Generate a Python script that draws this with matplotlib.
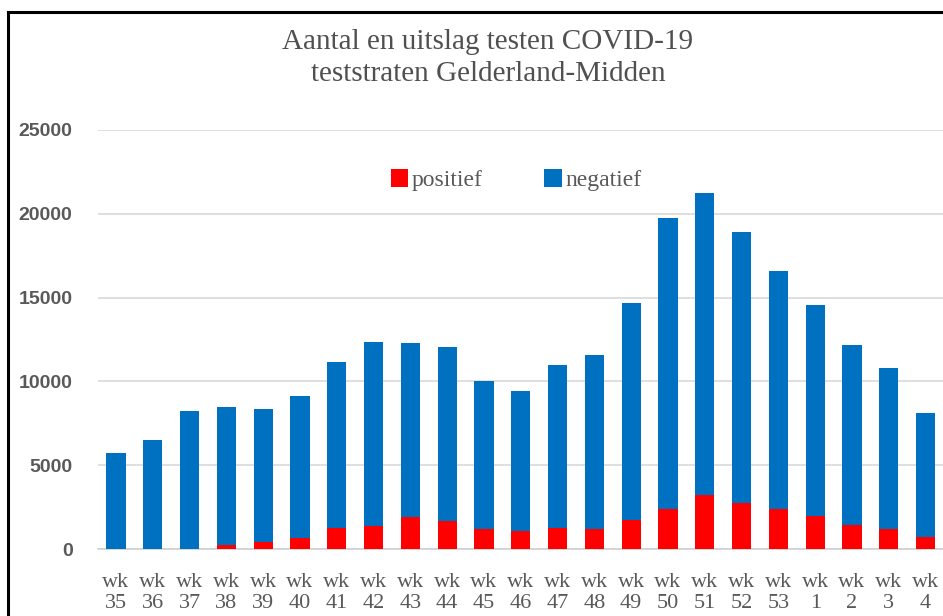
import numpy as np
import matplotlib.pyplot as plt
from matplotlib.lines import Line2D

weeks = ['35', '36', '37', '38', '39', '40', '41', '42', '43', '44', '45', '46',
         '47', '48', '49', '50', '51', '52', '53', '1', '2', '3', '4']
totaal = [5750, 6500, 8230, 8470, 8350, 9130, 11160, 12350, 12290, 12050, 10020, 9430,
          10980, 11580, 14680, 19750, 21240, 18910, 16590, 14560, 12170, 10800, 8110]
positief = [0, 0, 0, 240, 400, 680, 1250, 1350, 1890, 1690, 1210, 1055,
            1230, 1175, 1730, 2370, 3200, 2765, 2405, 1970, 1450, 1175, 700]
negatief = [t - p for t, p in zip(totaal, positief)]

grey = '#595959'
W, H = 943, 616
fig = plt.figure(figsize=(W / 100, H / 100), dpi=100)
ax = fig.add_axes([97.6 / W, 1 - 549 / H, (944 - 97.6) / W, 419 / H])

x = np.arange(len(weeks))
ax.bar(x, positief, width=0.52, color='#ff0000', label='positief', zorder=3)
ax.bar(x, negatief, width=0.52, bottom=positief, color='#0070c0', label='negatief', zorder=3)

ax.set_xlim(-0.5, len(weeks) - 0.5)
ax.set_ylim(0, 25000)
ax.set_yticks(range(0, 25001, 5000))
ax.set_yticklabels([str(v) for v in range(0, 25001, 5000)], fontsize=14,
                   color=grey, family='Liberation Sans', fontweight='bold')
ax.set_xticks(x)
ax.set_xticklabels(['wk\n' + w for w in weeks], fontsize=16, color=grey,
                   family='Liberation Serif', linespacing=1.15)
ax.tick_params(axis='both', length=0)
ax.tick_params(axis='y', pad=18)
ax.tick_params(axis='x', pad=17)
ax.grid(axis='y', color='#d9d9d9', linewidth=1.2, zorder=0)
for s in ['top', 'right', 'left']:
    ax.spines[s].set_visible(False)
ax.spines['bottom'].set_color('#d0d0d0')
ax.spines['bottom'].set_linewidth(1.2)

leg = ax.legend(loc='upper center', bbox_to_anchor=(516 / W, 1 - 148 / H),
                bbox_transform=fig.transFigure, ncol=2, frameon=False,
                prop={'family': 'Liberation Serif', 'size': 17},
                handlelength=0.75, handleheight=0.75, handletextpad=0.15, columnspacing=2.6)
for t in leg.get_texts():
    t.set_color(grey)

fig.text(488 / W, 1 - 58 / H, 'Aantal en uitslag testen COVID-19\nteststraten Gelderland-Midden',
         ha='center', va='center', fontsize=21, color='#505050', family='Liberation Serif',
         linespacing=1.3)

# black frame of the cropped screenshot
fig.add_artist(Line2D([8 / W, 8 / W], [0, 1 - 12 / H], color='black', linewidth=2.2,
                      transform=fig.transFigure))
fig.add_artist(Line2D([8 / W, 1], [1 - 12 / H, 1 - 12 / H], color='black', linewidth=2.2,
                      transform=fig.transFigure))

fig.savefig('out.png', dpi=100)
